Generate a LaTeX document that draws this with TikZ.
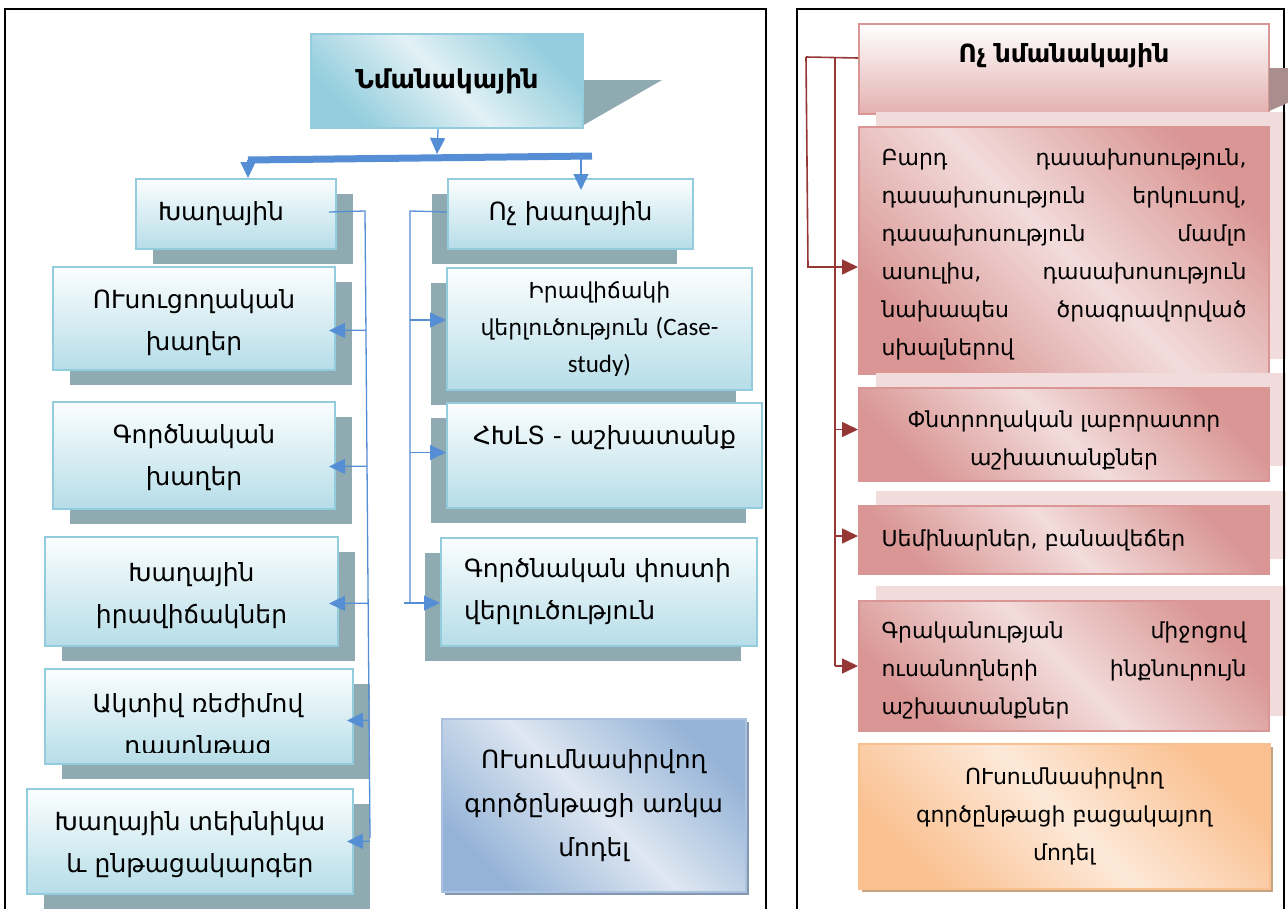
\documentclass[tikz,border=0pt]{standalone}
\usepackage{fontspec}
\setmainfont{DejaVu Sans}
\newfontfamily\calfont{Carlito}
\usetikzlibrary{arrows.meta,shadows,calc}
\definecolor{shadowc}{HTML}{8FAAB0}
\definecolor{bborder}{HTML}{93CDDD}
\definecolor{btop}{HTML}{FBFEFE}
\definecolor{bbot}{HTML}{B6DDE8}
\definecolor{tdark}{HTML}{93CDDD}
\definecolor{tlight}{HTML}{E2F1F5}
\definecolor{bluec}{HTML}{558ED5}
\definecolor{mdark}{HTML}{95B3D7}
\definecolor{mlight}{HTML}{DEE7F2}
\definecolor{mshadow}{HTML}{8597AE}
\definecolor{redc}{HTML}{953735}
\definecolor{pborder}{HTML}{D99694}
\definecolor{pdark}{HTML}{D99694}
\definecolor{plight}{HTML}{F2DCDB}
\definecolor{pshadow}{HTML}{F2DCDB}
\definecolor{hbot}{HTML}{E3B0AF}
\definecolor{hshadow}{HTML}{AA8E8E}
\definecolor{odark}{HTML}{FAC090}
\definecolor{olight}{HTML}{FDE9D9}
\definecolor{oshadow}{HTML}{C4A383}
\newcommand{\jl}[2]{\makebox[365pt]{#1\hfill #2}}
\begin{document}
\begin{tikzpicture}[x=1pt,y=-1pt,
  bbox/.style={draw=bborder, line width=2pt, top color=btop, bottom color=bbot,
    inner sep=0pt, anchor=north west},
  lshadow/.style={general shadow={fill=shadowc, shadow xshift=17pt, shadow yshift=-15pt}},
  rshadow/.style={general shadow={fill=shadowc, shadow xshift=-16pt, shadow yshift=-15pt}},
  topbox/.style={draw=bborder, line width=2pt, top color=tdark, bottom color=tdark,
    middle color=tlight, shading angle=-45, inner sep=0pt, anchor=north west},
  modelbox/.style={draw=mdark!80!white, line width=1.5pt, top color=mdark, bottom color=mdark,
    middle color=mlight, shading angle=-45, inner sep=0pt, anchor=north west,
    general shadow={fill=mshadow, shadow xshift=3pt, shadow yshift=-3pt}},
  pbox/.style={draw=pborder, line width=2pt, top color=pdark, bottom color=pdark,
    middle color=plight, shading angle=-45, inner sep=0pt, anchor=north west,
    general shadow={fill=pshadow, shadow xshift=17pt, shadow yshift=15pt}},
  headbox/.style={draw=pborder, line width=2pt, top color=white, bottom color=hbot,
    inner sep=0pt, anchor=north west},
  obox/.style={draw=odark, line width=1.5pt, top color=odark, bottom color=odark,
    middle color=olight, shading angle=-45, inner sep=0pt, anchor=north west,
    general shadow={fill=oshadow, shadow xshift=3pt, shadow yshift=-3pt}},
  ltxt/.style={font=\fontsize{25}{42}\selectfont, align=center},
  rtxt/.style={font=\fontsize{22}{38}\selectfont},
  frame/.style={draw=black, line width=2pt},
  bline/.style={draw=bluec, line width=1.3pt},
  barr/.style={bline, -{Triangle[length=16pt,width=15pt]}},
  rline/.style={draw=redc, line width=1.6pt},
  rarr/.style={rline, -{Triangle[length=16pt,width=15pt]}}
]
\useasboundingbox (0,0) rectangle (1288,908);

% ---------- left panel ----------
\fill[shadowc] (582,80) -- (662,80) -- (582,126) -- cycle;
\node[topbox, minimum width=272, minimum height=94] (top) at (310,33)
  {\fontsize{26}{42}\selectfont\bfseries Նմանակային};

\node[bbox, lshadow, minimum width=200, minimum height=70, ltxt, text width=156, align=left]
  (khagh) at (135,178) {Խաղային};
\node[bbox, rshadow, minimum width=245, minimum height=70, ltxt] (voch) at (447,178) {Ոչ խաղային};

\node[bbox, lshadow, minimum width=282, minimum height=103, ltxt] (usuc) at (52,266)
  {\rule{0pt}{27pt}ՈՒսուցողական\\խաղեր};
\node[bbox, lshadow, minimum width=282, minimum height=107, ltxt] (gorc) at (52,401)
  {\rule{0pt}{23pt}Գործնական\\խաղեր};
\node[bbox, lshadow, minimum width=293, minimum height=109, ltxt] (irav) at (44,536)
  {\rule{0pt}{27pt}Խաղային\\իրավիճակներ};
\node[bbox, lshadow, minimum width=308, minimum height=95] (aktiv) at (44,668) {};
\begin{scope}
  \clip (44,668) rectangle (352,752);
  \node[ltxt] (aktivt) at (198,727) {Ակտիվ ռեժիմով\\դասընթաց};
\end{scope}
\node[bbox, lshadow, minimum width=326, minimum height=105, ltxt] (tekh) at (26,788)
  {\rule{0pt}{25pt}Խաղային տեխնիկա\\և ընթացակարգեր};

\node[bbox, rshadow, minimum width=305, minimum height=122, font=\fontsize{22}{37}\selectfont, align=center]
  (case) at (446,267) {Իրավիճակի\\վերլուծություն {\calfont\fontsize{25}{37}\selectfont (Case-}\\{\calfont\fontsize{25}{37}\selectfont study)}};
\node[bbox, rshadow, minimum width=315, minimum height=105, ltxt] (hxlt) at (446,402)
  {ՀԽԼՏ - աշխատանք\\\mbox{}};
\node[bbox, rshadow, minimum width=316, minimum height=108, ltxt, text width=270, align=left]
  (post) at (440,537) {Գործնական փոստի\\վերլուծություն};

\node[modelbox, minimum width=304, minimum height=173, font=\fontsize{25}{44}\selectfont, align=center]
  (model) at (441,718) {ՈՒսումնասիրվող\\գործընթացի առկա\\մոդել};

% blue connectors
\draw[draw=bluec, line width=7pt] (248,160) -- (592,156);
\coordinate (barM) at (437,154);
\coordinate (barL) at (248,160);
\coordinate (barR) at (581,157);
\draw[barr] ([xshift=-9pt]top.south) -- (barM);
\draw[barr] (barL) -- (barL |- khagh.north);
\draw[barr] (barR) -- ([yshift=-12pt]barR |- voch.north);

\coordinate (kv1) at (365,211);
\coordinate (kv2) at (370,838);
\draw[bline] ([xshift=-8pt,yshift=2pt]khagh.east) -- (kv1) -- (kv2);
\coordinate (a1) at ([xshift=-7pt,yshift=-12pt]usuc.east);
\coordinate (a2) at ([xshift=-7pt,yshift=-11pt]gorc.east);
\coordinate (a3) at ([xshift=-10pt,yshift=-12pt]irav.east);
\coordinate (a4) at ([xshift=-7pt,yshift=-4pt]aktiv.east);
\coordinate (a5) at ([xshift=-7pt]tekh.east);
\foreach \t in {a1,a2,a3,a4,a5}
  \draw[barr] ($(kv1)!(\t)!(kv2)$) -- (\t);

\coordinate (vv1) at (410,211);
\coordinate (vv2) at (410,602);
\draw[bline] ([yshift=2pt]voch.west) -- (vv1) -- (vv2);
\coordinate (b1) at ([yshift=9pt]case.west);
\coordinate (b2) at ([yshift=3pt]hxlt.west);
\coordinate (b3) at ([yshift=-11pt]post.west);
\draw[barr] (b1 -| vv1) -- (b1);
\draw[barr] (b2 -| vv1) -- (b2);
\draw[barr] ([xshift=-6pt]b3 -| vv1) -- (b3);

% ---------- right panel ----------
\node[headbox, minimum width=410, minimum height=90] (head) at (858,23) {};
\node[font=\fontsize{25}{38}\selectfont\bfseries] (headt) at ([yshift=13pt]head.center) {Ոչ նմանակային};
\node[pbox, minimum width=410, minimum height=247, rtxt, text width=365, align=left] (bard) at (858,126)
  {\rule{0pt}{25pt}\jl{Բարդ}{դասախոսություն,}\\
   \jl{դասախոսություն}{երկուսով,}\\
   \jl{դասախոսություն}{մամլո}\\
   \jl{ասուլիս,}{դասախոսություն}\\
   \jl{նախապես}{ծրագրավորված}\\
   սխալներով};
\node[pbox, minimum width=410, minimum height=93, rtxt, align=center] (pntr) at (858,387)
  {\rule{0pt}{29pt}Փնտրողական լաբորատոր\\աշխատանքներ};
\node[pbox, minimum width=410, minimum height=68, rtxt, text width=365, align=left] (semin) at (858,505)
  {Սեմինարներ, բանավեճեր};
\node[pbox, minimum width=410, minimum height=130, rtxt, text width=365, align=left] (grak) at (858,600)
  {\rule{0pt}{26pt}\jl{Գրականության}{միջոցով}\\
   \jl{ուսանողների}{ինքնուրույն}\\
   աշխատանքներ};
\node[obox, minimum width=411, minimum height=145, rtxt, align=center] (bacak) at (858,743)
  {ՈՒսումնասիրվող\\գործընթացի բացակայող\\մոդել};

% red connectors
\coordinate (r1) at (806,57);
\coordinate (r1b) at (808,267);
\coordinate (r2) at (835,57);
\coordinate (r2b) at (835,666);
\draw[rline] ([yshift=11pt]head.west) -- (r1);
\draw[rarr] (r1) -- (r1b) -- (r1b -| bard.west);
\draw[rline] (r2) -- (r2b);
\coordinate (c1) at ([yshift=5pt]pntr.west);
\coordinate (c2) at ([yshift=4pt]semin.west);
\coordinate (c3) at (r2b -| grak.west);
\draw[rarr] (c1 -| r2) -- (c1);
\draw[rarr] (c2 -| r2) -- (c2);
\draw[rarr] (r2b) -- (c3);

% frames
\draw[frame] (5,912) -- (5,9) -- (766,9) -- (766,912);
\draw[frame] (797,912) -- (797,9) -- (1284,9) -- (1284,912);
\fill[hshadow] (1269,68) -- (1290,68) -- (1290,102) -- (1269,111) -- cycle;
\end{tikzpicture}
\end{document}
